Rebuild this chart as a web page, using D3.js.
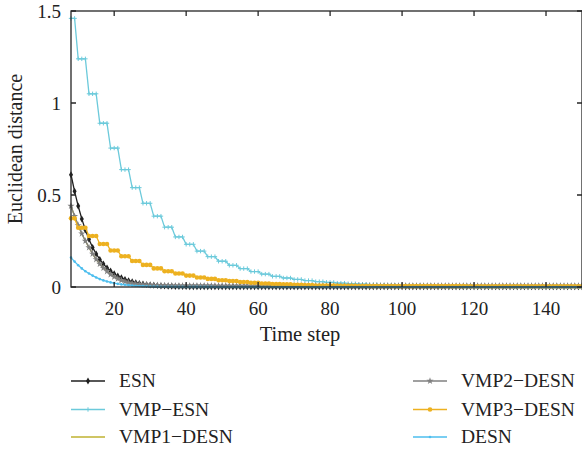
<!DOCTYPE HTML>
<html>
<head>
  <title>Euclidean distance</title>
  <script src="https://d3js.org/d3.v7.min.js"></script>
  <style type="text/css">
    body { margin: 0; background: #fff; }
    text { font-family: "Liberation Serif", "DejaVu Serif", serif; fill: #222; }
    .line { fill: none; stroke-width: 1.3px; }
  </style>
</head>
<body>
  <svg width="582" height="451"></svg>
  <script type="text/javascript">
    // time steps 8..150
    var steps = d3.range(8, 151);

    var esn = [
      0.61, 0.52, 0.44, 0.37, 0.31, 0.26, 0.215, 0.18, 0.15, 0.125,
      0.104, 0.087, 0.072, 0.06, 0.05, 0.041, 0.034, 0.028, 0.023, 0.019,
      0.016, 0.013, 0.011, 0.009, 0.0075, 0.006, 0.005, 0.004, 0.0035, 0.003,
      0.0025, 0.002, 0.002, 0.0015, 0.0015, 0.001, 0.001, 0.001, 0.001, 0.001,
      0.001, 0.001, 0.001, 0.001, 0.001, 0.001, 0.001, 0.001, 0.001, 0.001,
      0.001, 0.001, 0.001, 0.001, 0.001, 0.001, 0.001, 0.001, 0.001, 0.001,
      0.001, 0.001, 0.001, 0.001, 0.001, 0.001, 0.001, 0.001, 0.001, 0.001,
      0.001, 0.001, 0.001, 0.001, 0.001, 0.001, 0.001, 0.001, 0.001, 0.001,
      0.001, 0.001, 0.001, 0.001, 0.001, 0.001, 0.001, 0.001, 0.001, 0.001,
      0.001, 0.001, 0.001, 0.001, 0.001, 0.001, 0.001, 0.001, 0.001, 0.001,
      0.001, 0.001, 0.001, 0.001, 0.001, 0.001, 0.001, 0.001, 0.001, 0.001,
      0.001, 0.001, 0.001, 0.001, 0.001, 0.001, 0.001, 0.001, 0.001, 0.001,
      0.001, 0.001, 0.001, 0.001, 0.001, 0.001, 0.001, 0.001, 0.001, 0.001,
      0.001, 0.001, 0.001, 0.001, 0.001, 0.001, 0.001, 0.001, 0.001, 0.001,
      0.001, 0.001, 0.001
    ];

    var vmpEsn = [
      1.46, 1.46, 1.24, 1.24, 1.24, 1.05, 1.05, 1.05, 0.89, 0.89,
      0.89, 0.755, 0.755, 0.755, 0.638, 0.638, 0.638, 0.54, 0.54, 0.54,
      0.455, 0.455, 0.455, 0.385, 0.385, 0.385, 0.325, 0.325, 0.325, 0.272,
      0.272, 0.272, 0.232, 0.232, 0.232, 0.195, 0.195, 0.195, 0.165, 0.165,
      0.165, 0.14, 0.14, 0.14, 0.118, 0.118, 0.118, 0.1, 0.1, 0.1,
      0.084, 0.084, 0.084, 0.07, 0.07, 0.07, 0.058, 0.058, 0.058, 0.049,
      0.049, 0.049, 0.041, 0.041, 0.041, 0.035, 0.035, 0.035, 0.029, 0.029,
      0.029, 0.025, 0.025, 0.025, 0.021, 0.021, 0.021, 0.018, 0.018, 0.018,
      0.015, 0.015, 0.015, 0.013, 0.013, 0.013, 0.011, 0.011, 0.011, 0.009,
      0.009, 0.009, 0.008, 0.008, 0.008, 0.007, 0.007, 0.007, 0.006, 0.006,
      0.006, 0.005, 0.005, 0.005, 0.0045, 0.0045, 0.0045, 0.004, 0.004, 0.004,
      0.0035, 0.0035, 0.0035, 0.003, 0.003, 0.003, 0.003, 0.003, 0.003, 0.0025,
      0.0025, 0.0025, 0.0025, 0.0025, 0.0025, 0.002, 0.002, 0.002, 0.002, 0.002,
      0.002, 0.002, 0.002, 0.002, 0.0015, 0.0015, 0.0015, 0.0015, 0.0015, 0.0015,
      0.0015, 0.0015, 0.0015
    ];

    var vmp2Desn = [
      0.44, 0.385, 0.335, 0.29, 0.25, 0.215, 0.18, 0.15, 0.125, 0.103,
      0.085, 0.068, 0.055, 0.045, 0.036, 0.029, 0.024, 0.02, 0.017, 0.015,
      0.013, 0.012, 0.011, 0.01, 0.0095, 0.009, 0.0085, 0.008, 0.0075, 0.007,
      0.007, 0.007, 0.007, 0.007, 0.007, 0.007, 0.007, 0.007, 0.007, 0.007,
      0.0065, 0.0065, 0.0065, 0.0065, 0.0065, 0.0065, 0.0065, 0.0065, 0.0065, 0.0065,
      0.0065, 0.0065, 0.0065, 0.0065, 0.0065, 0.0065, 0.0065, 0.0065, 0.0065, 0.0065,
      0.006, 0.006, 0.006, 0.006, 0.006, 0.006, 0.006, 0.006, 0.006, 0.006,
      0.006, 0.006, 0.006, 0.006, 0.006, 0.006, 0.006, 0.006, 0.006, 0.006,
      0.006, 0.006, 0.006, 0.006, 0.006, 0.006, 0.006, 0.006, 0.006, 0.006,
      0.006, 0.006, 0.006, 0.006, 0.006, 0.006, 0.006, 0.006, 0.006, 0.006,
      0.006, 0.006, 0.006, 0.006, 0.006, 0.006, 0.006, 0.006, 0.006, 0.006,
      0.006, 0.006, 0.006, 0.006, 0.006, 0.006, 0.006, 0.006, 0.006, 0.006,
      0.006, 0.006, 0.006, 0.006, 0.006, 0.006, 0.006, 0.006, 0.006, 0.006,
      0.006, 0.006, 0.006, 0.006, 0.006, 0.006, 0.006, 0.006, 0.006, 0.006,
      0.006, 0.006, 0.006
    ];

    // VMP1-DESN is not visible: it lies under the VMP2-DESN curve
    var vmp1Desn = [
      0.44, 0.385, 0.335, 0.29, 0.25, 0.215, 0.18, 0.15, 0.125, 0.103,
      0.085, 0.068, 0.055, 0.045, 0.036, 0.029, 0.024, 0.02, 0.017, 0.015,
      0.013, 0.012, 0.011, 0.01, 0.0095, 0.009, 0.0085, 0.008, 0.0075, 0.007,
      0.007, 0.007, 0.007, 0.007, 0.007, 0.007, 0.007, 0.007, 0.007, 0.007,
      0.0065, 0.0065, 0.0065, 0.0065, 0.0065, 0.0065, 0.0065, 0.0065, 0.0065, 0.0065,
      0.0065, 0.0065, 0.0065, 0.0065, 0.0065, 0.0065, 0.0065, 0.0065, 0.0065, 0.0065,
      0.006, 0.006, 0.006, 0.006, 0.006, 0.006, 0.006, 0.006, 0.006, 0.006,
      0.006, 0.006, 0.006, 0.006, 0.006, 0.006, 0.006, 0.006, 0.006, 0.006,
      0.006, 0.006, 0.006, 0.006, 0.006, 0.006, 0.006, 0.006, 0.006, 0.006,
      0.006, 0.006, 0.006, 0.006, 0.006, 0.006, 0.006, 0.006, 0.006, 0.006,
      0.006, 0.006, 0.006, 0.006, 0.006, 0.006, 0.006, 0.006, 0.006, 0.006,
      0.006, 0.006, 0.006, 0.006, 0.006, 0.006, 0.006, 0.006, 0.006, 0.006,
      0.006, 0.006, 0.006, 0.006, 0.006, 0.006, 0.006, 0.006, 0.006, 0.006,
      0.006, 0.006, 0.006, 0.006, 0.006, 0.006, 0.006, 0.006, 0.006, 0.006,
      0.006, 0.006, 0.006
    ];

    var vmp3Desn = [
      0.373, 0.373, 0.322, 0.322, 0.322, 0.277, 0.277, 0.277, 0.234, 0.234,
      0.234, 0.198, 0.198, 0.198, 0.167, 0.167, 0.167, 0.141, 0.141, 0.141,
      0.12, 0.12, 0.12, 0.101, 0.101, 0.101, 0.086, 0.086, 0.086, 0.073,
      0.073, 0.073, 0.062, 0.062, 0.062, 0.052, 0.052, 0.052, 0.044, 0.044,
      0.044, 0.037, 0.037, 0.037, 0.032, 0.032, 0.032, 0.027, 0.027, 0.027,
      0.023, 0.023, 0.023, 0.019, 0.019, 0.019, 0.016, 0.016, 0.016, 0.014,
      0.014, 0.014, 0.012, 0.012, 0.012, 0.01, 0.01, 0.01, 0.0085, 0.0085,
      0.0085, 0.0075, 0.0075, 0.0075, 0.0065, 0.0065, 0.0065, 0.006, 0.006, 0.006,
      0.0055, 0.0055, 0.0055, 0.005, 0.005, 0.005, 0.005, 0.005, 0.005, 0.005,
      0.0045, 0.0045, 0.0045, 0.0045, 0.0045, 0.0045, 0.0045, 0.0045, 0.0045, 0.0045,
      0.0045, 0.0045, 0.0045, 0.0045, 0.0045, 0.0045, 0.0045, 0.0045, 0.0045, 0.0045,
      0.004, 0.004, 0.004, 0.004, 0.004, 0.004, 0.004, 0.004, 0.004, 0.004,
      0.004, 0.004, 0.004, 0.004, 0.004, 0.004, 0.004, 0.004, 0.004, 0.004,
      0.004, 0.004, 0.004, 0.004, 0.004, 0.004, 0.004, 0.004, 0.004, 0.004,
      0.004, 0.004, 0.004
    ];

    var desn = [
      0.16, 0.138, 0.118, 0.101, 0.086, 0.073, 0.062, 0.052, 0.043, 0.036,
      0.03, 0.025, 0.021, 0.017, 0.014, 0.012, 0.01, 0.008, 0.0065, 0.0055,
      0.0045, 0.0035, 0.003, 0.0025, 0.002, 0.0015, 0.0015, 0.001, 0.001, 0.001,
      0.0005, 0.0005, 0.0005, 0.0005, 0.0005, 0.0005, 0.0005, 0.0005, 0.0005, 0.0005,
      0, 0, 0, 0, 0, 0, 0, 0, 0, 0,
      0, 0, 0, 0, 0, 0, 0, 0, 0, 0,
      0, 0, 0, 0, 0, 0, 0, 0, 0, 0,
      0, 0, 0, 0, 0, 0, 0, 0, 0, 0,
      0, 0, 0, 0, 0, 0, 0, 0, 0, 0,
      0, 0, 0, 0, 0, 0, 0, 0, 0, 0,
      0, 0, 0, 0, 0, 0, 0, 0, 0, 0,
      0, 0, 0, 0, 0, 0, 0, 0, 0, 0,
      0, 0, 0, 0, 0, 0, 0, 0, 0, 0,
      0, 0, 0, 0, 0, 0, 0, 0, 0, 0,
      0, 0, 0
    ];

    var xTicks = [20, 40, 60, 80, 100, 120, 140];
    var yTicks = [0, 0.5, 1, 1.5];
    var yTickLabels = ["0", "0.5", "1", "1.5"];

    var seriesNames = ["ESN", "VMP\u2212ESN", "VMP1\u2212DESN", "VMP2\u2212DESN", "VMP3\u2212DESN", "DESN"];
    var seriesValues = [esn, vmpEsn, vmp1Desn, vmp2Desn, vmp3Desn, desn];
    var seriesColors = ["#1f1f1f", "#6ccadb", "#bfb230", "#808080", "#edb120", "#4dbeee"];
    var seriesMarkers = ["diamond", "plus", "none", "star", "circle", "dot"];

    var svg = d3.select("svg"),
      margin = { top: 11, right: 0, bottom: 164, left: 71 },
      width = +svg.attr("width") - margin.left - margin.right,
      height = +svg.attr("height") - margin.top - margin.bottom,
      g = svg.append("g").attr("transform", "translate(" + margin.left + "," + margin.top + ")");

    var x = d3.scaleLinear().domain([8, 150]).range([0, width]);
    var y = d3.scaleLinear().domain([0, 1.5]).range([height, 0]);

    var line = d3.line()
      .x(function(d, i) { return x(steps[i]); })
      .y(function(d) { return y(d); });

    function marker(sel, type, color) {
      if (type === "diamond") {
        sel.append("path").attr("d", d3.symbol().type(d3.symbolDiamond).size(14)())
          .attr("fill", color);
      } else if (type === "plus") {
        sel.append("path").attr("d", "M-2.2,0H2.2M0,-2.2V2.2")
          .attr("stroke", color).attr("stroke-width", 1).attr("fill", "none");
      } else if (type === "star") {
        sel.append("path").attr("d", d3.symbol().type(d3.symbolStar).size(16)())
          .attr("fill", color);
      } else if (type === "circle") {
        sel.append("circle").attr("r", 2.3).attr("fill", color);
      } else if (type === "dot") {
        sel.append("circle").attr("r", 1.3).attr("fill", color);
      }
    }

    var series = g.selectAll(".series")
      .data(seriesValues)
      .enter().append("g")
      .attr("class", "series");

    series.append("path")
      .attr("class", "line")
      .attr("stroke", function(d, i) { return seriesColors[i]; })
      .attr("d", line);

    series.each(function(vals, s) {
      if (seriesMarkers[s] === "none") return;
      d3.select(this).selectAll(".mk")
        .data(vals)
        .enter().append("g")
        .attr("class", "mk")
        .attr("transform", function(d, i) { return "translate(" + x(steps[i]) + "," + y(d) + ")"; })
        .each(function() { marker(d3.select(this), seriesMarkers[s], seriesColors[s]); });
    });

    // axes box with inward ticks
    var axisColor = "#262626";
    g.append("rect")
      .attr("width", width).attr("height", height)
      .attr("fill", "none").attr("stroke", axisColor).attr("stroke-width", 1.3);

    g.selectAll(".xt").data(xTicks).enter().append("path")
      .attr("d", function(d) {
        return "M" + x(d) + "," + height + "v-5M" + x(d) + ",0v5";
      })
      .attr("stroke", axisColor).attr("stroke-width", 1.3);

    g.selectAll(".yt").data(yTicks).enter().append("path")
      .attr("d", function(d) {
        return "M0," + y(d) + "h5M" + width + "," + y(d) + "h-5";
      })
      .attr("stroke", axisColor).attr("stroke-width", 1.3);

    g.selectAll(".xl").data(xTicks).enter().append("text")
      .attr("x", function(d) { return x(d); })
      .attr("y", height + 28)
      .attr("text-anchor", "middle")
      .style("font-size", "19px")
      .text(function(d) { return d; });

    g.selectAll(".yl").data(yTicks).enter().append("text")
      .attr("x", -10)
      .attr("y", function(d) { return y(d); })
      .attr("dy", "0.35em")
      .attr("text-anchor", "end")
      .style("font-size", "19px")
      .text(function(d, i) { return yTickLabels[i]; });

    g.append("text")
      .attr("x", 229)
      .attr("y", height + 54)
      .attr("text-anchor", "middle")
      .style("font-size", "20.5px")
      .text("Time step");

    svg.append("text")
      .attr("transform", "translate(22," + (margin.top + height / 2) + ") rotate(-90)")
      .attr("text-anchor", "middle")
      .style("font-size", "20px")
      .text("Euclidean distance");

    // legend
    var legendRows = [381, 409.5, 437];
    var legend = svg.selectAll(".legend")
      .data(seriesNames)
      .enter().append("g")
      .attr("class", "legend")
      .attr("transform", function(d, i) {
        var col = i < 3 ? 0 : 1;
        return "translate(" + (col ? 413 : 71) + "," + legendRows[i % 3] + ")";
      });

    legend.append("path")
      .attr("d", "M0,0H34")
      .attr("stroke", function(d, i) { return seriesColors[i]; })
      .attr("stroke-width", 1.3);

    legend.each(function(d, i) {
      var m = d3.select(this).append("g").attr("transform", "translate(17,0)");
      marker(m, seriesMarkers[i], seriesColors[i]);
    });

    legend.append("text")
      .attr("x", 48)
      .attr("dy", "0.33em")
      .style("font-size", "19.5px")
      .text(function(d) { return d; });
  </script>
</body>
</html>
